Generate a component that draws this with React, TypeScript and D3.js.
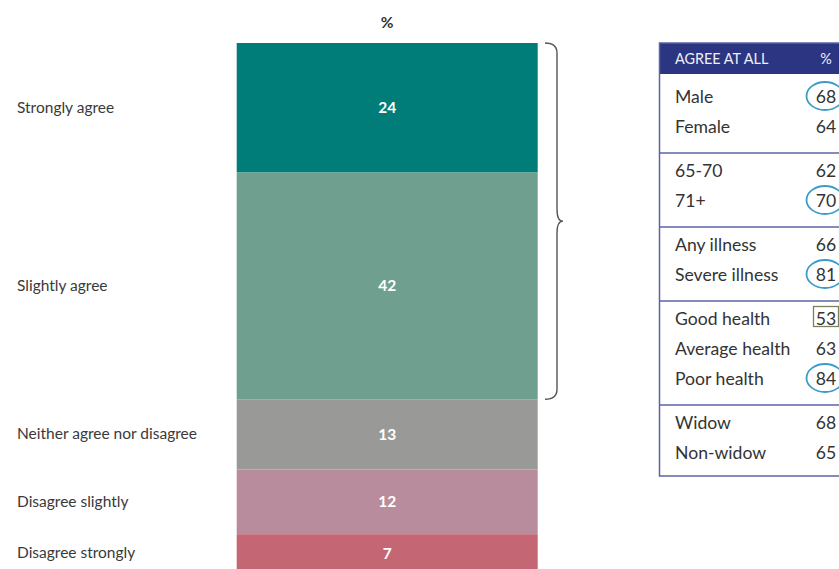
import React from "react";
import * as d3 from "d3";

const categories = [
  "Strongly agree",
  "Slightly agree",
  "Neither agree nor disagree",
  "Disagree slightly",
  "Disagree strongly",
];
const values = [24, 42, 13, 12, 7];
const barColors = ["#007c79", "#6fa08f", "#999997", "#b88c9c", "#c46674"];

const tableHeader = "AGREE AT ALL";
const tableLabels = [
  "Male",
  "Female",
  "65-70",
  "71+",
  "Any illness",
  "Severe illness",
  "Good health",
  "Average health",
  "Poor health",
  "Widow",
  "Non-widow",
];
const tableValues = [68, 64, 62, 70, 66, 81, 53, 63, 84, 68, 65];
const tableGroups = [0, 0, 1, 1, 2, 2, 3, 3, 3, 4, 4];
const tableMarks = ["circle", "", "", "circle", "", "circle", "box", "", "circle", "", ""];

const W = 839;
const H = 569;
const FONT = "Lato, 'Open Sans', sans-serif";

export default function App() {
  const total = d3.sum(values);
  const y = d3.scaleLinear().domain([0, total]).range([43, 572]);
  const barX0 = 236.7;
  const barX1 = 537.7;
  const barCx = (barX0 + barX1) / 2;
  const cum = d3.cumsum(values);
  const segs = values.map((v, i) => ({
    v,
    label: categories[i],
    color: barColors[i],
    y0: y(cum[i] - v),
    y1: y(cum[i]),
  }));

  // brace over the agree segments
  const bTop = y(0);
  const bBot = y(cum[1]);
  const bMid = (bTop + bBot) / 2;
  const bx0 = 545;
  const bx1 = 557;
  const bTip = 563;
  const brace = d3.path();
  brace.moveTo(bx0, bTop);
  brace.quadraticCurveTo(bx1, bTop, bx1, bTop + 10);
  brace.lineTo(bx1, bMid - 12);
  brace.quadraticCurveTo(bx1, bMid, bTip, bMid);
  brace.quadraticCurveTo(bx1, bMid, bx1, bMid + 12);
  brace.lineTo(bx1, bBot - 10);
  brace.quadraticCurveTo(bx1, bBot, bx0, bBot);

  // table layout
  const tX = 659.5;
  const tTop = 43;
  const headH = 31;
  const rowStep = 30;
  const groupGap = 14;
  const firstBase = 103;
  const baseline = (i: number) => firstBase + i * rowStep + tableGroups[i] * groupGap;
  const valCx = 826;
  const nGroups = d3.max(tableGroups)! + 1;
  const separators: number[] = [];
  for (let g = 1; g < nGroups; g++) {
    const last = tableGroups.lastIndexOf(g - 1);
    const first = tableGroups.indexOf(g);
    separators.push((baseline(last) + baseline(first)) / 2 - 2);
  }
  const tBottom = baseline(tableLabels.length - 1) + 17;

  return (
    <svg
      width={W}
      height={H}
      style={{ position: "absolute", left: 0, top: 0, display: "block" }}
      fontFamily={FONT}
    >
      <rect x={0} y={0} width={W} height={H} fill="#ffffff" />
      <text x={barCx} y={27.5} textAnchor="middle" fontSize={15.5} fontWeight={700} fill="#333">
        %
      </text>
      {segs.map((s, i) => (
        <g key={i}>
          <rect x={barX0} y={s.y0} width={barX1 - barX0} height={s.y1 - s.y0} fill={s.color} />
          <text
            x={barCx}
            y={(s.y0 + s.y1) / 2 + 5.5}
            textAnchor="middle"
            fontSize={15.5}
            fontWeight={700}
            fill="#ffffff"
          >
            {s.v}
          </text>
          <text x={17} y={(s.y0 + s.y1) / 2 + 5} fontSize={15.5} fill="#3a3a3a">
            {s.label}
          </text>
        </g>
      ))}
      <path d={brace.toString()} fill="none" stroke="#555" strokeWidth={1.4} />

      {/* table */}
      <rect x={tX} y={tTop} width={W + 20 - tX} height={headH} fill="#2b3582" />
      <rect
        x={tX}
        y={tTop}
        width={W + 20 - tX}
        height={tBottom - tTop}
        fill="none"
        stroke="#5b63a8"
        strokeWidth={1.5}
      />
      <text x={675} y={63.5} fontSize={14.4} fill="#eef0f8">
        {tableHeader}
      </text>
      <text x={valCx} y={63.5} textAnchor="middle" fontSize={14.4} fill="#eef0f8">
        %
      </text>
      {separators.map((s, i) => (
        <line key={i} x1={tX} x2={W + 20} y1={s} y2={s} stroke="#5b63a8" strokeWidth={1.5} />
      ))}
      {tableLabels.map((lab, i) => {
        const b = baseline(i);
        const mark = tableMarks[i];
        return (
          <g key={lab}>
            <text x={675} y={b} fontSize={17.6} fill="#333">
              {lab}
            </text>
            {mark === "circle" && (
              <ellipse cx={825} cy={b - 7} rx={18.5} ry={14} fill="none" stroke="#3a9dc9" strokeWidth={1.8} />
            )}
            {mark === "box" && (
              <rect x={813.5} y={b - 18.5} width={25} height={20} fill="none" stroke="#7d805e" strokeWidth={1.3} />
            )}
            <text x={valCx} y={b} textAnchor="middle" fontSize={17.6} fill="#333">
              {tableValues[i]}
            </text>
          </g>
        );
      })}
    </svg>
  );
}
